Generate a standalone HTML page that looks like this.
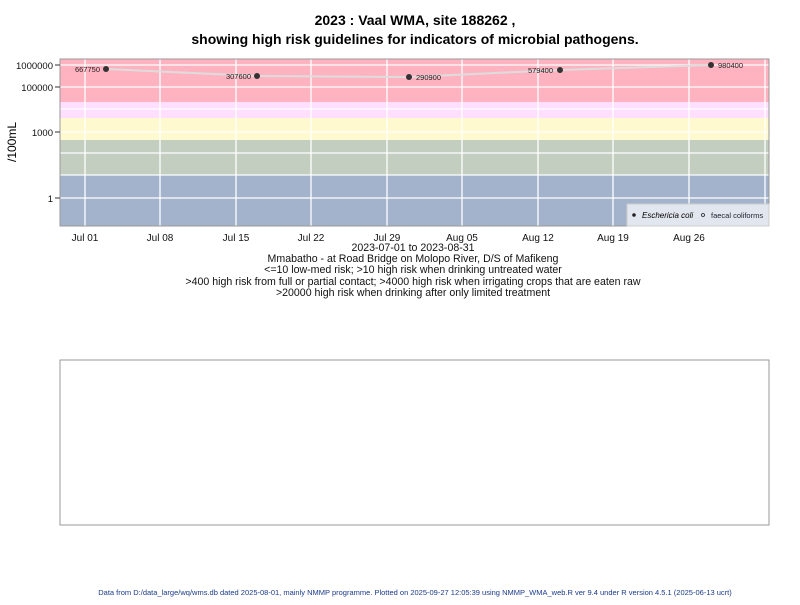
<!DOCTYPE html>
<html><head><meta charset="utf-8"><style>
body{margin:0;background:#fff;width:800px;height:600px;overflow:hidden}
svg{font-family:"Liberation Sans",Arial,sans-serif}
</style></head><body>
<svg width="800" height="600" viewBox="0 0 800 600" xmlns="http://www.w3.org/2000/svg">
<text x="415" y="25" text-anchor="middle" font-size="14" font-weight="bold">2023 : Vaal WMA, site 188262 ,</text>
<text x="415" y="44" text-anchor="middle" font-size="14" font-weight="bold">showing high risk guidelines for indicators of microbial pathogens.</text>
<rect x="60" y="59" width="709" height="43" fill="#ffb3c0"/>
<rect x="60" y="102" width="709" height="16" fill="#ffdfff"/>
<rect x="60" y="118" width="709" height="22" fill="#fff9d0"/>
<rect x="60" y="140" width="709" height="35" fill="#c3cdc0"/>
<rect x="60" y="175" width="709" height="51" fill="#a3b3cc"/>
<g stroke="#fff" stroke-width="1.3">
<line x1="60" x2="769" y1="65" y2="65"/><line x1="60" x2="769" y1="87" y2="87"/>
<line x1="60" x2="769" y1="109" y2="109"/><line x1="60" x2="769" y1="132" y2="132"/>
<line x1="60" x2="769" y1="153" y2="153"/><line x1="60" x2="769" y1="175" y2="175"/>
<line x1="60" x2="769" y1="198" y2="198"/>
<line x1="85" x2="85" y1="59" y2="226"/><line x1="160" x2="160" y1="59" y2="226"/>
<line x1="236" x2="236" y1="59" y2="226"/><line x1="311" x2="311" y1="59" y2="226"/>
<line x1="387" x2="387" y1="59" y2="226"/><line x1="462" x2="462" y1="59" y2="226"/>
<line x1="538" x2="538" y1="59" y2="226"/><line x1="613" x2="613" y1="59" y2="226"/>
<line x1="689" x2="689" y1="59" y2="226"/><line x1="765" x2="765" y1="59" y2="226"/>
</g>
<rect x="60" y="59" width="709" height="167" fill="none" stroke="#999"/>
<polyline points="106,69 257,76 409,77 560,70 711,65" fill="none" stroke="#ddd" stroke-width="2"/>
<g fill="#333">
<circle cx="106" cy="69" r="3"/><circle cx="257" cy="76" r="3"/><circle cx="409" cy="77" r="3"/>
<circle cx="560" cy="70" r="3"/><circle cx="711" cy="65" r="3"/>
</g>
<g font-size="7.5" fill="#222">
<text x="100" y="72" text-anchor="end">667750</text>
<text x="251" y="79" text-anchor="end">307600</text>
<text x="416" y="80">290900</text>
<text x="553" y="73" text-anchor="end">579400</text>
<text x="718" y="68">980400</text>
</g>
<rect x="627" y="204" width="142" height="22" fill="#e2e6ee" stroke="#ccc"/>
<circle cx="634" cy="215" r="1.8" fill="#222"/>
<text x="642" y="218" font-size="8" font-style="italic">Eschericia coli</text>
<circle cx="703" cy="215" r="1.5" fill="none" stroke="#222" stroke-width="0.8"/>
<text x="711" y="218" font-size="7.5" fill="#223">faecal coliforms</text>
<g stroke="#333"><line x1="55" x2="60" y1="65" y2="65"/><line x1="55" x2="60" y1="87" y2="87"/><line x1="55" x2="60" y1="132" y2="132"/><line x1="55" x2="60" y1="198" y2="198"/></g>
<g font-size="9.5" text-anchor="end" fill="#111">
<text x="53" y="69">1000000</text><text x="53" y="91">100000</text><text x="53" y="136">1000</text><text x="53" y="202">1</text>
</g>
<text transform="translate(16,142) rotate(-90)" font-size="12" text-anchor="middle">/100mL</text>
<g font-size="10" text-anchor="middle" fill="#111">
<text x="85" y="241">Jul 01</text><text x="160" y="241">Jul 08</text><text x="236" y="241">Jul 15</text>
<text x="311" y="241">Jul 22</text><text x="387" y="241">Jul 29</text><text x="462" y="241">Aug 05</text>
<text x="538" y="241">Aug 12</text><text x="613" y="241">Aug 19</text><text x="689" y="241">Aug 26</text>
</g>
<g font-size="10.6" text-anchor="middle" fill="#111">
<text x="413" y="251">2023-07-01 to 2023-08-31</text>
<text x="413" y="262">Mmabatho - at Road Bridge on Molopo River, D/S of Mafikeng</text>
<text x="413" y="273">&lt;=10 low-med risk; &gt;10 high risk when drinking untreated water</text>
<text x="413" y="285">&gt;400 high risk from full or partial contact; &gt;4000 high risk when irrigating crops that are eaten raw</text>
<text x="413" y="296">&gt;20000 high risk when drinking after only limited treatment</text>
</g>
<rect x="60" y="360" width="709" height="165" fill="none" stroke="#999"/>
<text x="415" y="595" text-anchor="middle" font-size="7.5" fill="#1a3a8a">Data from D:/data_large/wq/wms.db dated 2025-08-01, mainly NMMP programme. Plotted on 2025-09-27 12:05:39 using NMMP_WMA_web.R ver 9.4 under R version 4.5.1 (2025-06-13 ucrt)</text>
</svg>
</body></html>
